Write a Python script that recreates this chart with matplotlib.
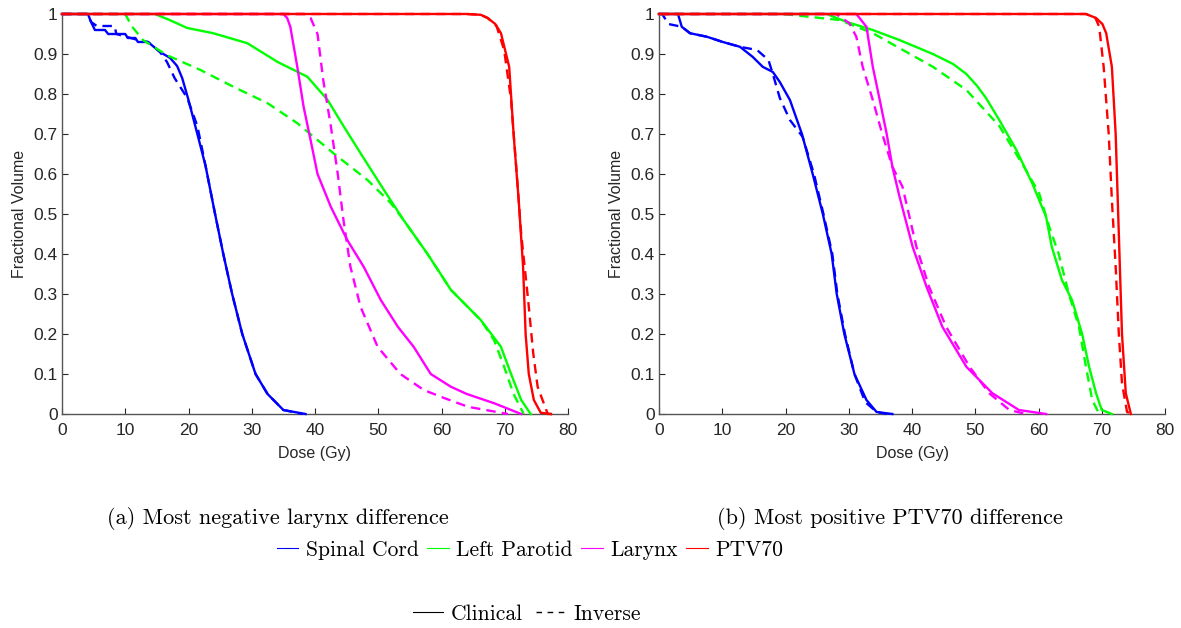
import numpy as np
import matplotlib
matplotlib.use("Agg")
import matplotlib.pyplot as plt
from matplotlib.lines import Line2D
from matplotlib.ticker import FormatStrFormatter

# (a) most negative larynx difference
a_cord_clin_d = [0, 4.1, 4.6, 5.2, 6.8, 7.3, 10.0, 10.4, 11.6, 12.0, 13.6, 15.5, 17.1, 18.2, 19.0, 20.0, 21.4, 22.7, 24.2, 25.5, 26.9, 28.5, 30.6, 32.5, 35.0, 38.5]
a_cord_clin_v = [1, 1, 0.98, 0.96, 0.96, 0.95, 0.95, 0.94, 0.94, 0.93, 0.93, 0.905, 0.89, 0.87, 0.84, 0.785, 0.70, 0.62, 0.5, 0.4, 0.3, 0.2, 0.1, 0.05, 0.01, 0]
a_cord_inv_d = [0, 4.0, 4.6, 5.5, 8.3, 8.6, 12.0, 13.6, 15.5, 16.6, 17.8, 19.8, 21.4, 22.7, 24.2, 25.5, 26.9, 28.5, 30.6, 32.5, 35.0, 38.0]
a_cord_inv_v = [1, 1, 0.98, 0.97, 0.97, 0.95, 0.935, 0.93, 0.905, 0.88, 0.84, 0.79, 0.72, 0.62, 0.5, 0.4, 0.3, 0.2, 0.1, 0.05, 0.01, 0]
a_par_clin_d = [0, 14.7, 17.0, 19.8, 23.9, 29.3, 34.1, 38.8, 42.0, 44.5, 47.2, 50.9, 54.0, 57.8, 61.5, 66.2, 69.4, 71.0, 72.6, 74.1]
a_par_clin_v = [1, 1, 0.985, 0.965, 0.952, 0.927, 0.88, 0.843, 0.785, 0.72, 0.652, 0.56, 0.485, 0.40, 0.31, 0.235, 0.168, 0.10, 0.035, 0]
a_par_inv_d = [0, 10.0, 11.0, 12.8, 16.6, 21.9, 27.1, 32.5, 37.2, 42.9, 48.3, 52.0, 54.0, 57.8, 61.5, 66.2, 68.3, 69.9, 71.4, 73.0]
a_par_inv_v = [1, 1, 0.97, 0.935, 0.897, 0.86, 0.818, 0.777, 0.727, 0.652, 0.585, 0.527, 0.485, 0.40, 0.31, 0.235, 0.185, 0.118, 0.05, 0]
a_lar_clin_d = [0, 35.0, 35.6, 36.1, 37.2, 38.2, 39.3, 40.4, 42.5, 45.1, 47.7, 50.4, 53.1, 55.6, 58.3, 61.5, 64.0, 68.3, 72.6]
a_lar_clin_v = [1, 1, 0.99, 0.968, 0.868, 0.768, 0.685, 0.60, 0.518, 0.435, 0.368, 0.285, 0.218, 0.168, 0.10, 0.068, 0.05, 0.027, 0]
a_lar_inv_d = [0, 38.3, 39.3, 40.4, 41.3, 42.5, 43.6, 44.5, 45.6, 47.2, 49.9, 53.5, 57.2, 60.4, 64.2, 70.5]
a_lar_inv_v = [1, 1, 0.99, 0.95, 0.835, 0.72, 0.60, 0.485, 0.368, 0.268, 0.168, 0.10, 0.06, 0.04, 0.018, 0]
a_ptv_clin_d = [0, 64.0, 66.2, 67.3, 68.5, 69.4, 70.7, 71.4, 72.2, 72.9, 73.3, 73.8, 74.6, 75.7, 77.3]
a_ptv_clin_v = [1, 1, 0.998, 0.99, 0.975, 0.952, 0.868, 0.70, 0.535, 0.368, 0.2, 0.10, 0.035, 0.003, 0]
a_ptv_inv_d = [0, 64.0, 66.2, 67.3, 68.7, 69.9, 71.0, 71.8, 72.6, 73.7, 74.5, 75.2, 76.8, 77.5]
a_ptv_inv_v = [1, 1, 0.998, 0.99, 0.97, 0.91, 0.785, 0.62, 0.45, 0.285, 0.152, 0.068, 0, 0]

# (b) most positive PTV70 difference
b_cord_clin_d = [0, 3.0, 3.6, 4.9, 7.6, 10.1, 12.8, 14.8, 16.4, 18.0, 19.1, 20.7, 22.6, 24.3, 25.9, 27.3, 28.1, 29.3, 30.9, 32.8, 34.4, 36.9]
b_cord_clin_v = [1, 1, 0.968, 0.952, 0.943, 0.93, 0.918, 0.893, 0.868, 0.855, 0.83, 0.785, 0.7, 0.6, 0.5, 0.4, 0.3, 0.2, 0.1, 0.035, 0.005, 0]
b_cord_inv_d = [0, 0.5, 1.5, 3.6, 4.9, 7.6, 10.1, 12.8, 15.5, 17.3, 18.0, 19.1, 20.7, 22.7, 24.5, 26.0, 27.4, 28.2, 29.4, 30.9, 32.6, 34.4, 36.0]
b_cord_inv_v = [1, 1, 0.975, 0.968, 0.952, 0.943, 0.93, 0.918, 0.91, 0.885, 0.85, 0.79, 0.735, 0.693, 0.6, 0.5, 0.4, 0.3, 0.2, 0.1, 0.03, 0.005, 0]
b_par_clin_d = [0, 26.5, 29.7, 33.8, 38.0, 43.3, 46.5, 48.6, 50.3, 51.7, 53.8, 56.5, 59.0, 61.2, 62.1, 63.7, 65.3, 66.9, 68.0, 69.1, 70.0, 71.6]
b_par_clin_v = [1, 1, 0.98, 0.96, 0.935, 0.9, 0.875, 0.85, 0.82, 0.79, 0.735, 0.66, 0.577, 0.493, 0.418, 0.335, 0.285, 0.2, 0.118, 0.052, 0.01, 0]
b_par_inv_d = [0, 19.6, 28.5, 33.8, 38.0, 43.3, 48.6, 53.8, 55.8, 58.0, 60.1, 61.7, 63.2, 64.8, 66.4, 67.5, 68.5, 69.6]
b_par_inv_v = [1, 1, 0.985, 0.952, 0.915, 0.868, 0.81, 0.72, 0.668, 0.61, 0.552, 0.468, 0.40, 0.3, 0.218, 0.118, 0.035, 0]
b_lar_clin_d = [0, 31.2, 32.8, 33.8, 34.9, 36.0, 36.9, 38.0, 40.1, 42.3, 44.8, 48.6, 52.7, 56.9, 61.2]
b_lar_clin_v = [1, 1, 0.968, 0.868, 0.785, 0.70, 0.618, 0.545, 0.418, 0.318, 0.218, 0.118, 0.052, 0.01, 0]
b_lar_inv_d = [0, 28.0, 30.1, 31.2, 32.2, 33.8, 35.3, 36.9, 38.5, 40.7, 42.7, 45.4, 49.1, 52.2, 55.4, 58.0]
b_lar_inv_v = [1, 1, 0.977, 0.943, 0.868, 0.785, 0.70, 0.618, 0.568, 0.418, 0.318, 0.218, 0.118, 0.052, 0.01, 0]
b_ptv_clin_d = [0, 67.5, 69.1, 70.1, 70.7, 71.6, 72.2, 72.7, 73.2, 73.8, 74.6]
b_ptv_clin_v = [1, 1, 0.99, 0.975, 0.952, 0.868, 0.70, 0.45, 0.2, 0.052, 0]
b_ptv_inv_d = [0, 67.5, 69.0, 69.6, 70.3, 71.1, 71.6, 72.2, 72.7, 73.2, 74.0, 74.8]
b_ptv_inv_v = [1, 1, 0.99, 0.968, 0.868, 0.70, 0.535, 0.368, 0.2, 0.077, 0.005, 0]

structures = ["Spinal Cord", "Left Parotid", "Larynx", "PTV70"]
colors = ["#0000ff", "#00ff00", "#ff00ff", "#ff0000"]
captions = ["(a) Most negative larynx difference", "(b) Most positive PTV70 difference"]

panels = [
    [(a_cord_clin_d, a_cord_clin_v, a_cord_inv_d, a_cord_inv_v),
     (a_par_clin_d, a_par_clin_v, a_par_inv_d, a_par_inv_v),
     (a_lar_clin_d, a_lar_clin_v, a_lar_inv_d, a_lar_inv_v),
     (a_ptv_clin_d, a_ptv_clin_v, a_ptv_inv_d, a_ptv_inv_v)],
    [(b_cord_clin_d, b_cord_clin_v, b_cord_inv_d, b_cord_inv_v),
     (b_par_clin_d, b_par_clin_v, b_par_inv_d, b_par_inv_v),
     (b_lar_clin_d, b_lar_clin_v, b_lar_inv_d, b_lar_inv_v),
     (b_ptv_clin_d, b_ptv_clin_v, b_ptv_inv_d, b_ptv_inv_v)],
]

plt.rcParams['font.family'] = ['Liberation Sans', 'DejaVu Sans']
dash = (0, (4, 2.6))
gray = "#262626"

fig = plt.figure(figsize=(11.81, 6.28), dpi=100)
lefts = [62 / 1181, 659 / 1181]
for k, left in enumerate(lefts):
    ax = fig.add_axes([left, 1 - 414 / 628, 506 / 1181, 400 / 628])
    for (cd, cv, idd, iv), c in zip(panels[k], colors):
        ax.plot(cd, cv, color=c, lw=1.7, clip_on=False, zorder=3)
        ax.plot(idd, iv, color=c, lw=1.7, ls=dash, clip_on=False, zorder=3)
    ax.set_xlim(0, 80)
    ax.set_ylim(0, 1)
    ax.set_xticks(np.arange(0, 81, 10))
    ax.set_yticks(np.arange(0, 1.01, 0.1))
    ax.yaxis.set_major_formatter(FormatStrFormatter('%g'))
    ax.spines['top'].set_visible(False)
    ax.spines['right'].set_visible(False)
    for s in ['left', 'bottom']:
        ax.spines[s].set_color("#555555")
        ax.spines[s].set_linewidth(1.0)
    ax.tick_params(direction='in', length=4, width=0.8, colors=gray, labelsize=12.5)
    ax.tick_params(axis='x', pad=6.5)
    ax.tick_params(axis='y', pad=3)
    ax.set_xlabel("Dose (Gy)", fontsize=11.5, color=gray, labelpad=6)
    ax.set_ylabel("Fractional Volume", fontsize=11.5, color=gray, labelpad=5)

fig.text(278 / 1181, 1 - 518 / 628, captions[0], family='cmr10', fontsize=16, ha='center', va='center')
fig.text(890 / 1181, 1 - 518 / 628, captions[1], family='cmr10', fontsize=16, ha='center', va='center')

h1 = [Line2D([], [], color=c, lw=0.8) for c in colors]
fig.legend(h1, structures, loc='center', bbox_to_anchor=(530 / 1181, 1 - 550 / 628), ncol=4,
           frameon=False, prop={'family': 'cmr10', 'size': 15.5}, handlelength=1.0,
           handletextpad=0.35, columnspacing=0.4, borderpad=0)
h2 = [Line2D([], [], color='k', lw=0.8), Line2D([], [], color='k', lw=1.0, ls=(0, (4, 4)))]
fig.legend(h2, ["Clinical", "Inverse"], loc='center', bbox_to_anchor=(527 / 1181, 1 - 614 / 628), ncol=2,
           frameon=False, prop={'family': 'cmr10', 'size': 15.5}, handlelength=1.4,
           handletextpad=0.35, columnspacing=0.6, borderpad=0)

fig.savefig("out.png", dpi=100)
